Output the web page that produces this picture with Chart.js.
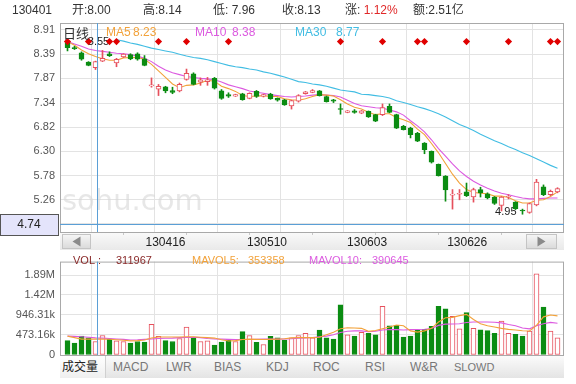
<!DOCTYPE html>
<html><head><meta charset="utf-8">
<script src="https://cdn.jsdelivr.net/npm/chart.js@4/dist/chart.umd.min.js"></script>
<style>
body{margin:0;background:#fff;}
#wrap{position:relative;width:576px;height:384px;overflow:hidden;background:#fff;font-family:"Liberation Sans",Arial,"Noto Sans CJK SC",sans-serif;}
canvas{position:absolute;left:0;}
#c1{top:0;}
#c2{top:250px;}
.t{position:absolute;white-space:nowrap;font-size:12px;line-height:14px;color:#333;}
#tabs{position:absolute;left:60px;top:356px;width:504px;height:22px;background:linear-gradient(#fbfbfb,#e4e4e4);}
#sel{position:absolute;left:60px;top:356px;width:45px;height:22px;background:linear-gradient(#ffffff,#efefef);border-right:1px solid #d0d0d0;}
.tab{position:absolute;top:360px;font-size:12px;line-height:14px;color:#777;white-space:nowrap;}
</style></head>
<body><div id="wrap">
<canvas id="c1" width="576" height="250"></canvas>
<canvas id="c2" width="576" height="134"></canvas>
<div class="t" style="left:12px;top:3px;">130401</div>
<div class="t" style="left:72px;top:3px;">开:8.00</div>
<div class="t" style="left:143px;top:3px;">高:8.14</div>
<div class="t" style="left:213px;top:3px;">低: 7.96</div>
<div class="t" style="left:282px;top:3px;">收:8.13</div>
<div class="t" style="left:345px;top:3px;">涨: <span style="color:#e02828">1.12%</span></div>
<div class="t" style="left:413px;top:3px;">额:2.51亿</div>
<div id="tabs"></div><div id="sel"></div>
<div class="tab" style="left:62px;color:#222;">成交量</div>
<div class="tab" style="left:113px;">MACD</div>
<div class="tab" style="left:166px;">LWR</div>
<div class="tab" style="left:214px;">BIAS</div>
<div class="tab" style="left:266px;">KDJ</div>
<div class="tab" style="left:313px;">ROC</div>
<div class="tab" style="left:365px;">RSI</div>
<div class="tab" style="left:410px;">W&amp;R</div>
<div class="tab" style="left:454px;font-size:11px;">SLOWD</div>
</div>
<script>
// ---- data ----
const open = [8.64,8.53,8.42,8.22,8.10,8.24,8.40,8.20,8.33,8.38, 8.40,8.29,7.71,7.64,7.69,7.61,7.60,7.85,7.97,7.79,
 7.80,7.87,7.60,7.52,7.49,7.54,7.44,7.59,7.49,7.53, 7.44,7.41,7.28,7.38,7.54,7.57,7.60,7.48,7.41,7.22,
 7.14,7.17,7.12,7.16,7.09,7.09,7.27,7.09,6.84,6.80, 6.69,6.48,6.30,6.02,5.77,5.36,5.38,5.43,5.32,5.48,
 5.39,5.32,5.14,5.32,5.21,5.04,4.99,5.15,5.54,5.37, 5.43];
const close = [8.53,8.51,8.28,8.15,8.23,8.30,8.36,8.28,8.39,8.29, 8.28,8.15,7.73,7.70,7.60,7.57,7.74,7.98,7.74,7.84,
 7.84,7.66,7.44,7.49,7.52,7.41,7.55,7.48,7.52,7.43, 7.40,7.30,7.39,7.50,7.58,7.61,7.50,7.37,7.38,7.20,
 7.17,7.14,7.17,7.04,6.95,7.24,7.14,6.80,6.77,6.66, 6.52,6.34,6.07,5.78,5.47,5.38,5.40,5.35,5.48,5.41,
 5.30,5.18,5.32,5.34,5.07,5.02,5.18,5.64,5.37,5.44, 5.50];
const high = [8.68,8.56,8.44,8.23,8.24,8.47,8.44,8.30,8.40,8.40, 8.42,8.36,7.88,7.74,7.70,7.68,7.77,8.07,7.99,7.88,
 7.89,7.89,7.63,7.56,7.53,7.55,7.56,7.61,7.53,7.55, 7.45,7.42,7.40,7.52,7.59,7.63,7.61,7.49,7.42,7.32,
 7.18,7.20,7.18,7.17,7.10,7.32,7.32,7.10,6.86,6.82, 6.71,6.49,6.31,6.03,5.78,5.48,5.48,5.62,5.51,5.53,
 5.41,5.33,5.33,5.37,5.22,5.06,5.19,5.70,5.58,5.47, 5.52];
const low = [8.46,8.49,8.26,8.14,8.06,8.23,8.34,8.12,8.32,8.27, 8.26,8.14,7.68,7.50,7.56,7.54,7.58,7.83,7.73,7.72,
 7.72,7.64,7.42,7.46,7.48,7.40,7.43,7.46,7.47,7.42, 7.38,7.29,7.21,7.36,7.53,7.56,7.49,7.36,7.35,7.10,
 7.13,7.12,7.11,7.03,6.94,7.07,7.13,6.79,6.76,6.59, 6.51,6.25,6.05,5.77,5.23,5.06,5.26,5.33,5.21,5.32,
 5.28,5.16,5.02,5.28,5.05,4.95,4.97,5.13,5.35,5.35, 5.41];
const ma5 = [8.66,8.58,8.48,8.40,8.34,8.29,8.26,8.26,8.31,8.32, 8.32,8.28,8.17,8.03,7.89,7.75,7.67,7.72,7.73,7.77,
 7.83,7.81,7.70,7.65,7.59,7.50,7.48,7.49,7.50,7.48, 7.48,7.43,7.41,7.40,7.43,7.48,7.52,7.51,7.49,7.41,
 7.32,7.25,7.21,7.14,7.09,7.11,7.11,7.03,6.98,6.92, 6.78,6.66,6.47,6.27,6.04,5.81,5.62,5.48,5.42,5.40,
 5.39,5.34,5.34,5.31,5.24,5.19,5.19,5.25,5.26,5.33, 5.43];
const ma10 = [8.66,8.61,8.56,8.50,8.47,8.45,8.43,8.41,8.40,8.38, 8.35,8.30,8.23,8.13,8.05,7.99,7.95,7.91,7.89,7.87,
 7.86,7.84,7.79,7.73,7.69,7.65,7.60,7.57,7.55,7.52, 7.50,7.48,7.47,7.48,7.49,7.51,7.52,7.51,7.50,7.47,
 7.40,7.33,7.28,7.26,7.24,7.23,7.19,7.15,7.08,6.96, 6.85,6.72,6.55,6.36,6.20,6.03,5.88,5.76,5.66,5.58,
 5.51,5.45,5.40,5.37,5.33,5.30,5.28,5.28,5.29,5.30, 5.30];
const ma30 = [null,null,null,null,null,null,null,8.70,8.67,8.63, 8.60,8.56,8.52,8.49,8.46,8.43,8.39,8.35,8.32,8.30,
 8.27,8.23,8.19,8.15,8.12,8.10,8.07,8.05,8.01,7.98, 7.94,7.90,7.85,7.80,7.78,7.75,7.73,7.70,7.66,7.62,
 7.60,7.58,7.53,7.52,7.50,7.48,7.45,7.39,7.35,7.31, 7.26,7.22,7.17,7.11,7.04,6.96,6.88,6.82,6.75,6.67,
 6.60,6.53,6.47,6.40,6.34,6.27,6.21,6.14,6.07,6.00, 5.94];
const vol = [341000,284000,447000,405000,320000,462000,376000,334000,320000,284000,
 320000,305000,725000,440000,341000,320000,391000,661000,405000,320000,
 334000,234000,305000,362000,320000,554000,462000,298000,249000,440000,
 405000,355000,405000,462000,511000,405000,590000,405000,376000,1186000,
 476000,447000,533000,511000,476000,1150000,689000,703000,426000,447000,
 590000,604000,675000,1150000,1090000,916000,618000,1000000,632000,597000,
 575000,511000,803000,511000,490000,447000,568000,1920000,1130000,568000, 405000];
const mavol5 = [447,410,376,376,376,376,372,360,350,334, 340,355,400,426,426,426,426,430,430,420,
 410,400,360,330,340,365,376,370,365,370, 376,385,405,410,410,410,420,480,540,620,
 645,640,630,560,580,620,660,710,690,570, 540,570,630,780,880,890,930,960,840,740,
 690,660,630,605,590,575,568,700,902,945, 925].map(v => v * 1000);
const mavol10 = [447,440,430,420,405,400,390,380,370,355, 360,370,380,390,395,400,410,415,420,410,
 390,380,375,370,368,365,366,370,376,376, 376,378,385,398,405,412,430,447,480,533,
 560,570,570,550,560,590,604,600,590,600, 604,610,625,700,730,732,740,770,781,781,
 781,775,760,720,690,640,618,690,740,770, 750].map(v => v * 1000);
const signals = [0,3,6,7,13,17,23,39,45,50,51,57,63,69,70];
const priceTicks = [8.91,8.39,7.87,7.34,6.82,6.30,5.78,5.26,4.74];
const volTicks = [0,473160,946310,1420000,1890000];
const volTickLabels = ['0','473.16k','946.31k','1.42M','1.89M'];
const dateLabels = ['130416','130510','130603','130626'];
const datePos = [14,28.5,42.8,57.1];
const gridIdx = [8,17,26,35,44,53,62];
const legendVals = {ma5:'8.23', ma10:'8.38', ma30:'8.77', vol:'311967', mavol5:'353358', mavol10:'390645'};
const crossIdx = 4.15, crossPrice = 4.74, peakNote = '8.55', signalLevel = 8.66;

// ---- setup ----
const FONT = '"Liberation Sans", Arial, sans-serif';
Chart.defaults.font.family = FONT;
const RED = '#e6505c', GREEN = '#0b8c12';
const C5 = '#f2a23a', C10 = '#dc5ae0', C30 = '#42bde3';
const idx = close.map((_, i) => i);
const up = idx.map(i => close[i] >= open[i]);
const XMIN = -1.0714, XMAX = 70.9286;

function gridX(extra){
  return Object.assign({
    type:'linear', min:XMIN, max:XMAX, offset:false,
    grid:{color:'#e3e3e3', drawTicks:false}, border:{display:false},
    ticks:{display:false},
    afterBuildTicks: s => { s.ticks = gridIdx.map(v => ({value:v})); },
    afterFit: s => { s.height = 0; }
  }, extra || {});
}

function txt(ctx, s, x, y, color, font, align){
  ctx.fillStyle = color; ctx.font = font || ('12px ' + FONT);
  ctx.textAlign = align || 'left'; ctx.textBaseline = 'middle';
  ctx.fillText(s, x, y);
}

const mainDeco = {
  id:'mainDeco',
  beforeDraw(chart){
    const {ctx} = chart; const a = chart.chartArea;
    ctx.save();
    ctx.fillStyle = '#fff'; ctx.fillRect(0,0,chart.width,chart.height);
    const g = ctx.createLinearGradient(0, a.bottom, 0, 250);
    g.addColorStop(0,'#fafafa'); g.addColorStop(1,'#e9e9e9');
    ctx.fillStyle = g; ctx.fillRect(a.left, a.bottom, a.right - a.left, 250 - a.bottom);
    [[62,91,-1],[526,557,1]].forEach(([l,r,dir]) => {
      const bg = ctx.createLinearGradient(0,234,0,249);
      bg.addColorStop(0,'#f7f7f7'); bg.addColorStop(1,'#d9d9d9');
      ctx.fillStyle = bg; ctx.fillRect(l,234,r-l,15);
      ctx.strokeStyle = '#c4c4c4'; ctx.lineWidth = 1; ctx.strokeRect(l+0.5,234.5,r-l-1,14);
      const cx = (l+r)/2, cy = 241.5;
      ctx.fillStyle = '#8a8a8a'; ctx.beginPath();
      ctx.moveTo(cx + 4*dir, cy); ctx.lineTo(cx - 4*dir, cy - 5); ctx.lineTo(cx - 4*dir, cy + 5); ctx.closePath(); ctx.fill();
    });
    const xs = chart.scales.x;
    ctx.strokeStyle = '#c8c8c8';
    gridIdx.forEach(v => { const px = Math.round(xs.getPixelForValue(v)) + 0.5;
      ctx.beginPath(); ctx.moveTo(px, a.bottom); ctx.lineTo(px, a.bottom + 3); ctx.stroke(); });
    ctx.restore();
  },
  beforeDatasetsDraw(chart){
    const {ctx} = chart; const a = chart.chartArea;
    ctx.save();
    txt(ctx, 'sohu.com', a.left + 2, 202, 'rgba(215,215,215,0.6)', '29px "DejaVu Sans"');
    const xs = chart.scales.x, ys = chart.scales.y;
    txt(ctx, peakNote, xs.getPixelForValue(2.9), ys.getPixelForValue(signalLevel), '#222', '11px ' + FONT);
    let mi = 0; low.forEach((v,i) => { if (v < low[mi]) mi = i; });
    txt(ctx, low[mi].toFixed(2), xs.getPixelForValue(mi) - 6, ys.getPixelForValue(low[mi]) - 2, '#222', '11px ' + FONT, 'right');
    ctx.restore();
  },
  afterDraw(chart){
    const {ctx} = chart; const a = chart.chartArea;
    const xs = chart.scales.x, ys = chart.scales.y;
    ctx.save();
    ctx.strokeStyle = '#a9a9a9'; ctx.lineWidth = 1;
    ctx.strokeRect(a.left + 0.5, a.top + 0.5, a.right - a.left - 1, a.bottom - a.top);
    const cx = Math.round(xs.getPixelForValue(crossIdx)) + 0.5;
    const cy = Math.round(ys.getPixelForValue(crossPrice)) + 0.5;
    ctx.strokeStyle = '#5b9fd6';
    ctx.beginPath(); ctx.moveTo(cx, a.top); ctx.lineTo(cx, a.bottom); ctx.stroke();
    ctx.beginPath(); ctx.moveTo(a.left, cy); ctx.lineTo(a.right, cy); ctx.stroke();
    ctx.fillStyle = '#e4e4fb'; ctx.fillRect(0.5, cy - 10, 58, 21);
    ctx.strokeStyle = '#555'; ctx.strokeRect(0.5, cy - 10, 58, 21);
    txt(ctx, crossPrice.toFixed(2), 29, cy + 0.5, '#222', '12px ' + FONT, 'center');
    const ly = 33;
    txt(ctx, '日线', 63, ly, '#333', '13px "Noto Sans CJK SC"');
    txt(ctx, 'MA5', 106, ly, C5); txt(ctx, legendVals.ma5, 133, ly, C5);
    txt(ctx, 'MA10', 195, ly, C10); txt(ctx, legendVals.ma10, 232, ly, C10);
    txt(ctx, 'MA30', 295, ly, C30); txt(ctx, legendVals.ma30, 336, ly, C30);
    ctx.restore();
  }
};

const volDeco = {
  id:'volDeco',
  beforeDraw(chart){ const {ctx} = chart; ctx.save(); ctx.fillStyle = '#fff'; ctx.fillRect(0,0,chart.width,chart.height); ctx.restore(); },
  afterDraw(chart){
    const {ctx} = chart; const a = chart.chartArea; const xs = chart.scales.x;
    ctx.save();
    ctx.strokeStyle = '#a9a9a9'; ctx.lineWidth = 1;
    ctx.strokeRect(a.left + 0.5, a.top + 0.5, a.right - a.left - 1, a.bottom - a.top);
    const cx = Math.round(xs.getPixelForValue(crossIdx)) + 0.5;
    ctx.strokeStyle = '#5b9fd6';
    ctx.beginPath(); ctx.moveTo(cx, a.top); ctx.lineTo(cx, a.bottom); ctx.stroke();
    const ly = 10.5, f = '11px ' + FONT;
    txt(ctx, 'VOL :', 73, ly, '#8a2a2a', f); txt(ctx, legendVals.vol, 116, ly, '#8a2a2a', f);
    txt(ctx, 'MAVOL5:', 192, ly, C5, f); txt(ctx, legendVals.mavol5, 248, ly, C5, f);
    txt(ctx, 'MAVOL10:', 309, ly, C10, f); txt(ctx, legendVals.mavol10, 372, ly, C10, f);
    ctx.restore();
  }
};

const pts = arr => arr.map((v,i) => ({x:i, y:v}));
const lineDs = (arr, color) => ({type:'line', data:pts(arr), borderColor:color, borderWidth:1.1, pointRadius:0, fill:false, tension:0, order:3, xAxisID:'x', yAxisID:'y'});

new Chart(document.getElementById('c1'), {
  type:'bar',
  data:{datasets:[
    {type:'bar', data: idx.map(i => ({x:i, y:[low[i], high[i]]})), backgroundColor: idx.map(i => up[i] ? RED : GREEN),
     barThickness:1, grouped:false, order:2, xAxisID:'x', yAxisID:'y'},
    {type:'bar', data: idx.map(i => ({x:i, y:[open[i], close[i]]})), backgroundColor: idx.map(i => up[i] ? '#fff' : GREEN),
     borderColor: idx.map(i => up[i] ? RED : GREEN), borderWidth:1, borderSkipped:false, barThickness:5, minBarLength:1,
     grouped:false, order:1, xAxisID:'x', yAxisID:'y'},
    lineDs(ma5, C5), lineDs(ma10, C10), lineDs(ma30, C30),
    {type:'line', data: signals.map(i => ({x:i, y:signalLevel})), showLine:false, pointStyle:'rectRot', pointRadius:3.6,
     backgroundColor:'#e00000', borderColor:'#e00000', borderWidth:0, order:0, xAxisID:'x', yAxisID:'y'}
  ]},
  options:{
    responsive:false, animation:false, events:[],
    layout:{padding:{left:0, top:23, right:12, bottom:0}},
    plugins:{legend:{display:false}, tooltip:{enabled:false}},
    scales:{
      x: gridX(),
      xl: {type:'linear', position:'bottom', min:XMIN, max:XMAX, offset:false,
        grid:{display:false, drawTicks:false}, border:{display:false},
        ticks:{autoSkip:false, maxRotation:0, padding:3, color:'#222', font:{size:12},
          callback:(v, i) => dateLabels[i]},
        afterBuildTicks: s => { s.ticks = datePos.map(v => ({value:v})); },
        afterFit: s => { s.height = 18; }},
      y: {type:'linear', position:'left', min:4.568, max:9.06,
        grid:{color:'#e3e3e3', drawTicks:false}, border:{display:false},
        ticks:{padding:5, color:'#555', font:{size:11}, autoSkip:false,
          callback:(v) => v === crossPrice ? '' : v.toFixed(2)},
        afterBuildTicks: s => { s.ticks = priceTicks.map(v => ({value:v})); },
        afterFit: s => { s.width = 60; }}
    }
  },
  plugins:[mainDeco]
});

new Chart(document.getElementById('c2'), {
  type:'bar',
  data:{datasets:[
    {type:'bar', data: pts(vol), backgroundColor: idx.map(i => up[i] ? '#fff' : GREEN),
     borderColor: idx.map(i => up[i] ? RED : GREEN), borderWidth:1, borderSkipped:false, barThickness:5,
     grouped:false, order:2, xAxisID:'x', yAxisID:'y'},
    Object.assign(lineDs(mavol5, C5), {order:1}),
    Object.assign(lineDs(mavol10, C10), {order:1})
  ]},
  options:{
    responsive:false, animation:false, events:[],
    layout:{padding:{left:0, top:1, right:12, bottom:29}},
    plugins:{legend:{display:false}, tooltip:{enabled:false}},
    scales:{
      x: gridX(),
      y: {type:'linear', position:'left', min:0, max:2208000,
        grid:{color:'#e3e3e3', drawTicks:false}, border:{display:false},
        ticks:{padding:5, color:'#555', font:{size:11}, autoSkip:false,
          callback:(v, i) => volTickLabels[i]},
        afterBuildTicks: s => { s.ticks = volTicks.map(v => ({value:v})); },
        afterFit: s => { s.width = 60; }}
    }
  },
  plugins:[volDeco]
});
</script>
</body></html>
